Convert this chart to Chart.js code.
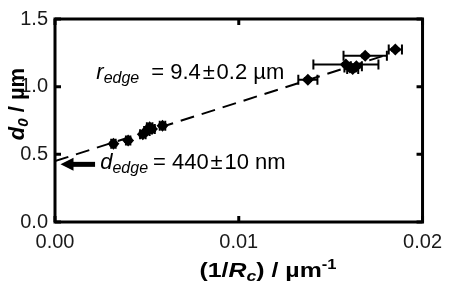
<!DOCTYPE html>
<html>
<head>
<meta charset="utf-8">
<script src="https://cdn.jsdelivr.net/npm/chart.js@4.4.0/dist/chart.umd.min.js"></script>
<style>
    html, body { margin: 0; padding: 0; background: #fff; }
    #wrap { width: 450px; height: 287px; }
</style>
</head>
<body>
<div id="wrap"><canvas id="chart"></canvas></div>
<script>
// measured points: 1/Rc (um^-1) against d0 (um)
var xValues = [0.00318, 0.00398, 0.00478, 0.00500, 0.00515, 0.00528, 0.00585,
               0.01376, 0.01583, 0.01605, 0.01620, 0.01640, 0.01688, 0.01852];
var yValues = [0.578, 0.603, 0.648, 0.672, 0.700, 0.688, 0.712,
               1.052, 1.163, 1.142, 1.130, 1.150, 1.228, 1.274];
var xErrors = [0.00012, 0.00012, 0.00015, 0.00015, 0.00015, 0.00015, 0.00015,
               0.00052, 0.00177, 0.00030, 0.00030, 0.00030, 0.00118, 0.00036];
var yErrors = [0.012, 0.012, 0.015, 0.015, 0.015, 0.015, 0.012,
               0.010, 0.012, 0.012, 0.012, 0.012, 0.010, 0.010];

// linear fit (dashed)
var fitX = [0, 0.0182];
var fitY = [0.45, 1.242];

var xTicks = [0, 0.01, 0.02];
var yTicks = [0, 0.5, 1.0, 1.5];

var FONT = '"Liberation Sans", Arial, sans-serif';

document.addEventListener('DOMContentLoaded', function () {
    var canvas = document.getElementById('chart');
    canvas.width = 450;
    canvas.height = 287;

    var points = xValues.map(function (x, i) { return { x: x, y: yValues[i] }; });
    var fitLine = fitX.map(function (x, i) { return { x: x, y: fitY[i] }; });

    // draw a run of text pieces with different fonts / offsets
    function drawRich(ctx, x, y, parts) {
        var cx = x;
        parts.forEach(function (p) {
            ctx.font = p.font;
            cx += p.gap || 0;
            ctx.fillText(p.text, cx, y + (p.dy || 0));
            cx += ctx.measureText(p.text).width;
        });
    }

    function richWidth(ctx, parts) {
        var w = 0;
        parts.forEach(function (p) {
            ctx.font = p.font;
            w += (p.gap || 0) + ctx.measureText(p.text).width;
        });
        return w;
    }

    var figurePlugin = {
        id: 'figure',
        beforeDatasetsDraw: function (chart) {
            var ctx = chart.ctx;
            var xs = chart.scales.x, ys = chart.scales.y;
            ctx.save();
            ctx.strokeStyle = '#000';
            ctx.lineWidth = 2;
            xValues.forEach(function (x, i) {
                var px = xs.getPixelForValue(x);
                var py = ys.getPixelForValue(yValues[i]);
                var x1 = xs.getPixelForValue(x - xErrors[i]);
                var x2 = xs.getPixelForValue(x + xErrors[i]);
                var y1 = ys.getPixelForValue(yValues[i] - yErrors[i]);
                var y2 = ys.getPixelForValue(yValues[i] + yErrors[i]);
                ctx.beginPath();
                ctx.moveTo(x1, py); ctx.lineTo(x2, py);
                ctx.moveTo(x1, py - 5); ctx.lineTo(x1, py + 5);
                ctx.moveTo(x2, py - 5); ctx.lineTo(x2, py + 5);
                ctx.moveTo(px, y1); ctx.lineTo(px, y2);
                ctx.moveTo(px - 4, y1); ctx.lineTo(px + 4, y1);
                ctx.moveTo(px - 4, y2); ctx.lineTo(px + 4, y2);
                ctx.stroke();
            });
            ctx.restore();
        },
        afterDraw: function (chart) {
            var ctx = chart.ctx;
            var a = chart.chartArea;
            var xs = chart.scales.x, ys = chart.scales.y;
            ctx.save();
            ctx.fillStyle = '#000';
            ctx.strokeStyle = '#000';

            // frame
            ctx.lineWidth = 3;
            ctx.strokeRect(a.left, a.top, a.right - a.left, a.bottom - a.top);

            // inward ticks on all four sides
            var tl = 6;
            ctx.beginPath();
            xTicks.forEach(function (v) {
                var px = xs.getPixelForValue(v);
                ctx.moveTo(px, a.bottom); ctx.lineTo(px, a.bottom - tl);
                ctx.moveTo(px, a.top); ctx.lineTo(px, a.top + tl);
            });
            yTicks.forEach(function (v) {
                var py = ys.getPixelForValue(v);
                ctx.moveTo(a.left, py); ctx.lineTo(a.left + tl, py);
                ctx.moveTo(a.right, py); ctx.lineTo(a.right - tl, py);
            });
            ctx.stroke();

            // arrow pointing at the intercept
            var tipX = xs.getPixelForValue(0.0003);
            var tailX = xs.getPixelForValue(0.00218);
            var ay = ys.getPixelForValue(0.426);
            ctx.lineWidth = 5;
            ctx.beginPath();
            ctx.moveTo(tailX, ay); ctx.lineTo(tipX + 10, ay);
            ctx.stroke();
            ctx.beginPath();
            ctx.moveTo(tipX, ay);
            ctx.lineTo(tipX + 13, ay - 6.5);
            ctx.lineTo(tipX + 13, ay + 6.5);
            ctx.closePath();
            ctx.fill();

            // annotations
            ctx.textAlign = 'left';
            ctx.textBaseline = 'alphabetic';
            drawRich(ctx, xs.getPixelForValue(0.00225), ys.getPixelForValue(1.055), [
                { text: 'r', font: 'italic 22px ' + FONT },
                { text: 'edge', font: 'italic 16px ' + FONT, dy: 4 },
                { text: '= 9.4\u200a\u00b1\u200a0.2 \u00b5m', font: '22px ' + FONT, gap: 12 }
            ]);
            drawRich(ctx, xs.getPixelForValue(0.00246), ys.getPixelForValue(0.395), [
                { text: 'd', font: 'italic 22px ' + FONT },
                { text: 'edge', font: 'italic 16px ' + FONT, dy: 4 },
                { text: '= 440\u200a\u00b1\u200a10 nm', font: '22px ' + FONT, gap: 5 }
            ]);

            // x axis title, stretched a little to the reference width
            var xParts = [
                { text: '(1/', font: 'bold 21px ' + FONT },
                { text: 'R', font: 'italic bold 21px ' + FONT },
                { text: 'c', font: 'italic bold 15px ' + FONT, dy: 4 },
                { text: ') / \u00b5m', font: 'bold 21px ' + FONT },
                { text: '-1', font: 'bold 14px ' + FONT, dy: -8 }
            ];
            var xw = richWidth(ctx, xParts);
            var sx = 137 / xw;
            ctx.save();
            ctx.translate(268 - 137 / 2, 277);
            ctx.scale(sx, 1);
            drawRich(ctx, 0, 0, xParts);
            ctx.restore();

            // y axis title (rotated)
            var yParts = [
                { text: 'd', font: 'italic bold 22px ' + FONT },
                { text: '0', font: 'italic bold 15px ' + FONT, dy: 4 },
                { text: ' / \u00b5m', font: 'bold 22px ' + FONT }
            ];
            var yw = richWidth(ctx, yParts);
            ctx.translate(24, 104);
            ctx.rotate(-Math.PI / 2);
            drawRich(ctx, -yw / 2, 0, yParts);

            ctx.restore();
        }
    };

    var chart = new Chart(canvas, {
        type: 'scatter',
        data: {
            datasets: [{
                type: 'line',
                data: fitLine,
                borderColor: '#000',
                borderWidth: 2,
                borderDash: [14, 8],
                pointRadius: 0,
                fill: false
            }, {
                data: points,
                backgroundColor: '#000',
                borderColor: '#000',
                pointStyle: 'rectRot',
                pointRadius: 6,
                borderWidth: 0
            }]
        },
        options: {
            responsive: false,
            animation: false,
            layout: { padding: { top: 13, right: 20, left: 0, bottom: 0 } },
            plugins: {
                legend: { display: false },
                tooltip: { enabled: false }
            },
            scales: {
                x: {
                    type: 'linear',
                    min: 0,
                    max: 0.02,
                    grid: { display: false, drawTicks: false },
                    border: { display: false },
                    afterBuildTicks: function (s) { s.ticks = xTicks.map(function (v) { return { value: v }; }); },
                    afterFit: function (s) { s.height = 65; },
                    ticks: {
                        padding: 8,
                        color: '#1a1a1a',
                        font: { family: FONT, size: 20 },
                        maxRotation: 0,
                        callback: function (v) { return v.toFixed(2); }
                    }
                },
                y: {
                    type: 'linear',
                    min: 0,
                    max: 1.5,
                    grid: { display: false, drawTicks: false },
                    border: { display: false },
                    afterBuildTicks: function (s) { s.ticks = yTicks.map(function (v) { return { value: v }; }); },
                    afterFit: function (s) { s.width = 55; },
                    ticks: {
                        padding: 7,
                        color: '#1a1a1a',
                        font: { family: FONT, size: 20 },
                        callback: function (v) { return v.toFixed(1); }
                    }
                }
            }
        },
        plugins: [figurePlugin]
    });
});
</script>
</body>
</html>
